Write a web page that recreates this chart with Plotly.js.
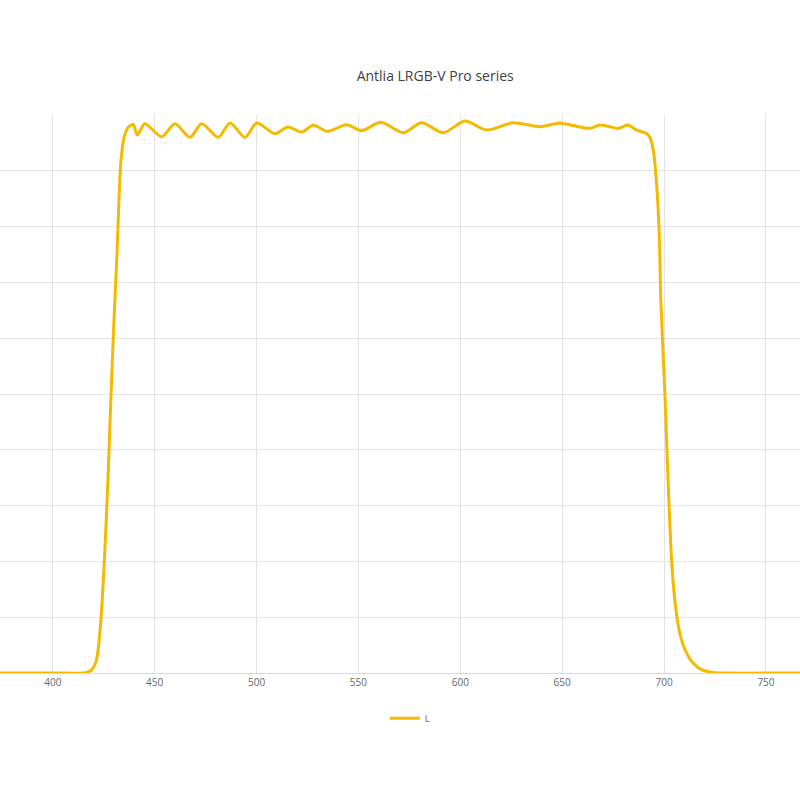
<!DOCTYPE html>
<html>
<head>
<meta charset="utf-8">
<script src="https://cdn.plot.ly/plotly-3.0.1.min.js"></script>
<style>html,body{margin:0;padding:0;background:#fff;}#chart{width:800px;height:800px;}</style>
</head>
<body>
<div id="chart"></div>
<script>
// Wavelength (nm) and transmission (%)
const wavelength = [374, 400, 415, 417.3, 419.2, 421.2, 422.2, 423.7, 425.3, 427.1, 428.6, 430.0, 431.5, 432.5, 433.5, 435.0, 437.0, 439.5, 441.5, 445.2,
  453.4, 460.0, 467.3, 473.1, 481.2, 487.0, 494.3, 500.1, 509.0, 515.4, 522.1, 527.8, 535.0, 544.2, 551.6, 561.0, 572.0, 581.0, 591.6, 602.3,
  612.9, 626.0, 639.1, 648.9, 655.3, 663.6, 668.5, 673.4, 677.3, 682.2, 686.5, 691.4, 693.0, 694.7, 696.3, 697.6, 698.4, 700.4, 701.9, 703.7,
  705.0, 706.3, 707.6, 709.0, 710.5, 712.7, 716.6, 720, 724, 730, 767];
const transmission = [0, 0, 0, 0.2, 0.6, 2, 4, 10, 20, 35, 50, 63, 75, 85, 92, 96, 97.8, 98.3, 96.4, 98.45,
  96.1, 98.44, 96.0, 98.44, 96.0, 98.57, 96.0, 98.57, 96.65, 97.85, 96.95, 98.15, 97.08, 98.26, 97.19, 98.7, 96.83, 98.62, 96.83, 98.92,
  97.31, 98.62, 97.9, 98.57, 98.1, 97.61, 98.2, 97.9, 97.6, 98.2, 97.3, 96.7, 96.0, 93.7, 87.8, 78.8, 66.8, 50, 35, 20,
  14, 10, 7.3, 5.4, 4.0, 2.5, 1.0, 0.4, 0.1, 0, 0];
const seriesName = 'L';
const chartTitle = 'Antlia LRGB-V Pro series';
const xTicks = [400, 450, 500, 550, 600, 650, 700, 750];

const trace = {
  x: wavelength,
  y: transmission,
  type: 'scatter',
  mode: 'lines',
  name: seriesName,
  line: {color: '#F5BA00', width: 3, shape: 'spline', smoothing: 0.8}
};

const layout = {
  width: 800,
  height: 800,
  margin: {l: 0, r: 0, t: 115, b: 127},
  paper_bgcolor: '#ffffff',
  plot_bgcolor: '#ffffff',
  font: {family: 'Open Sans, sans-serif', color: '#595959'},
  title: {
    text: chartTitle,
    font: {family: 'Open Sans, sans-serif', size: 14, color: '#404040'},
    x: 0.544, xanchor: 'center', xref: 'paper',
    y: 0.905, yanchor: 'middle', yref: 'container'
  },
  xaxis: {
    range: [374.1, 766.7],
    tickvals: xTicks,
    ticktext: xTicks.map(String),
    showgrid: true,
    gridcolor: '#e3e3e3',
    gridwidth: 1,
    zeroline: false,
    showline: true,
    linecolor: '#d9d9d9',
    linewidth: 1,
    ticks: '',
    tickfont: {size: 10, color: '#666666'}
  },
  yaxis: {
    range: [0, 100],
    dtick: 10,
    showgrid: true,
    gridcolor: '#e3e3e3',
    gridwidth: 1,
    zeroline: false,
    showticklabels: false,
    ticks: ''
  },
  showlegend: true,
  legend: {
    orientation: 'h',
    x: 0.481, xanchor: 'left',
    y: -0.081, yanchor: 'middle',
    font: {size: 9, color: '#666666'},
    bgcolor: 'rgba(0,0,0,0)'
  }
};

Plotly.newPlot('chart', [trace], layout, {displayModeBar: false, staticPlot: true});
</script>
</body>
</html>
